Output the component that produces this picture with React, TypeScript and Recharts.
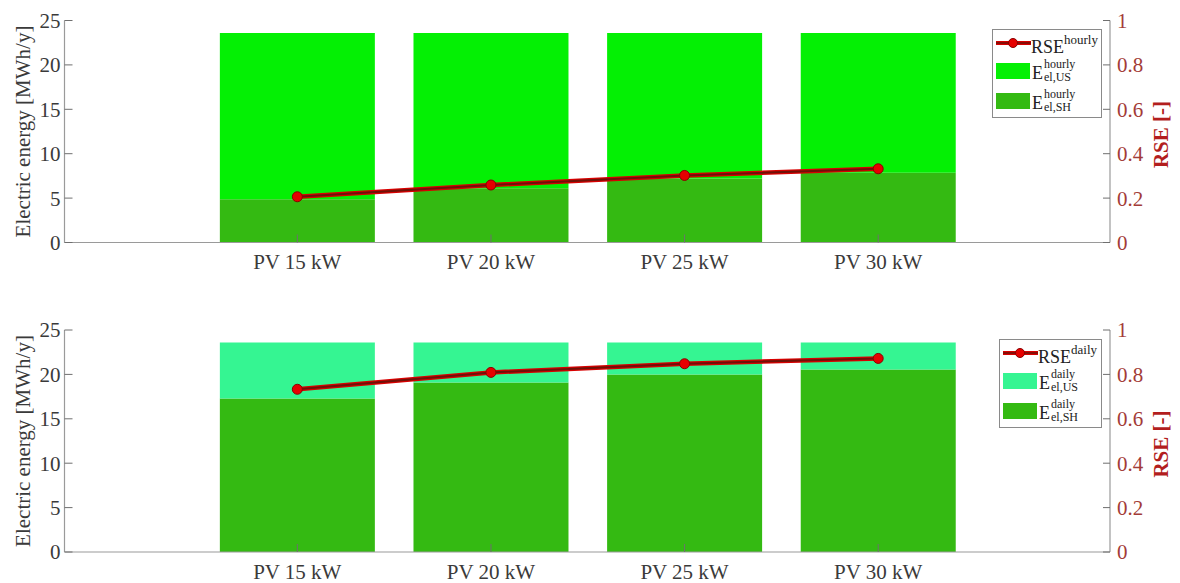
import React from 'react';
import {
  ComposedChart,
  Bar,
  Line,
  XAxis,
  YAxis,
  Legend,
  Label,
} from 'recharts';

const categories = ['PV 15 kW', 'PV 20 kW', 'PV 25 kW', 'PV 30 kW'];

const hourlySH = [4.86, 6.1, 7.2, 7.85];
const hourlyUS = [18.74, 17.5, 16.4, 15.75];
const rseHourly = [0.206, 0.259, 0.302, 0.332];

const dailySH = [17.3, 19.1, 20.0, 20.55];
const dailyUS = [6.3, 4.5, 3.6, 3.05];
const rseDaily = [0.733, 0.809, 0.848, 0.872];

const leftTicks = [0, 5, 10, 15, 20, 25];
const rightTicks = [0, 0.2, 0.4, 0.6, 0.8, 1];

const FONT = "'Liberation Serif', 'Times New Roman', serif";
const C_SH = '#34ba12';
const C_US_H = '#04f004';
const C_US_D = '#35f592';
const C_LINE_RED = '#d80000';
const C_LINE_DARK = '#6e1208';
const C_DOT = '#e60000';
const C_AXIS = '#9a9a9a';
const C_TICK = '#6f6f6f';
const C_TXT = '#3a3a3a';
const C_RIGHT_TXT = '#a33c38';
const C_RIGHT_LABEL = '#b31e1e';

const hourlyData = categories.map((c, i) => ({
  name: c,
  sh: hourlySH[i],
  us: hourlyUS[i],
  rse: rseHourly[i],
}));
const dailyData = categories.map((c, i) => ({
  name: c,
  sh: dailySH[i],
  us: dailyUS[i],
  rse: rseDaily[i],
}));

const LegendBox = ({ sup, usColor, width }: { sup: string; usColor: string; width: number }) => {
  const eLabel = (sub: string) => (
    <span style={{ display: 'inline-flex', alignItems: 'center', marginLeft: 2 }}>
      <span style={{ fontSize: 18, lineHeight: '18px', marginTop: 4 }}>E</span>
      <span
        style={{
          display: 'inline-flex',
          flexDirection: 'column',
          fontSize: 12,
          lineHeight: '13px',
          marginLeft: 1,
        }}
      >
        <span>{sup}</span>
        <span>{sub}</span>
      </span>
    </span>
  );
  return (
    <div
      style={{
        width,
        height: 89,
        boxSizing: 'border-box',
        border: '1px solid #8a8a8a',
        background: '#fff',
        fontFamily: FONT,
        color: '#222',
        paddingLeft: 3,
      }}
    >
      <div style={{ height: 26, display: 'flex', alignItems: 'center' }}>
        <svg width={35} height={14} style={{ display: 'block' }}>
          <line x1={0} y1={7} x2={35} y2={7} stroke={C_LINE_RED} strokeWidth={4} />
          <line x1={0} y1={7} x2={35} y2={7} stroke={C_LINE_DARK} strokeWidth={1.6} />
          <circle cx={17} cy={7} r={4.5} fill={C_DOT} stroke="#8a0000" strokeWidth={1} />
        </svg>
        <span style={{ fontSize: 18, lineHeight: '18px', marginTop: 8 }}>RSE</span>
        <span style={{ fontSize: 13, lineHeight: '13px', marginTop: -8 }}>{sup}</span>
      </div>
      <div style={{ height: 30, display: 'flex', alignItems: 'center' }}>
        <div style={{ width: 34, height: 16, background: usColor }} />
        {eLabel('el,US')}
      </div>
      <div style={{ height: 30, display: 'flex', alignItems: 'center' }}>
        <div style={{ width: 34, height: 16, background: C_SH }} />
        {eLabel('el,SH')}
      </div>
    </div>
  );
};

const Panel = ({
  data,
  usColor,
  sup,
  height,
  marginTop,
  xAxisHeight,
  legendTop,
  legendWidth,
}: {
  data: any[];
  usColor: string;
  sup: string;
  height: number;
  marginTop: number;
  xAxisHeight: number;
  legendTop: number;
  legendWidth: number;
}) => (
  <ComposedChart
    width={1180}
    height={height}
    data={data}
    margin={{ top: marginTop, right: 0, bottom: 0, left: 0 }}
    barCategoryGap="10%"
  >
    <XAxis
      dataKey="name"
      xAxisId="bottom"
      height={xAxisHeight}
      padding={{ left: 136, right: 135 }}
      axisLine={{ stroke: C_AXIS, strokeWidth: 1.2 }}
      tickLine={{ stroke: C_TICK }}
      tickSize={-8}
      tickMargin={20}
      tick={{ fill: C_TXT, fontSize: 21, fontFamily: FONT }}
      interval={0}
    />
    <XAxis
      dataKey="name"
      xAxisId="top"
      orientation="top"
      height={0}
      padding={{ left: 136, right: 135 }}
      axisLine={{ stroke: C_AXIS, strokeWidth: 1.2 }}
      tickLine={{ stroke: C_TICK }}
      tickSize={-8}
      tick={false}
      interval={0}
    />
    <YAxis
      yAxisId="left"
      width={64.5}
      domain={[0, 25]}
      ticks={leftTicks}
      allowDataOverflow
      axisLine={{ stroke: C_AXIS, strokeWidth: 1.2 }}
      tickLine={{ stroke: C_TICK }}
      tickSize={-8}
      tickMargin={12}
      tick={{ fill: C_TXT, fontSize: 21, fontFamily: FONT }}
    >
      <Label
        content={(props: any) => {
          const vb = props.viewBox || {};
          const cy = (vb.y ?? 0) + (vb.height ?? 0) / 2;
          return (
            <text
              x={23}
              y={cy}
              transform={`rotate(-90, 23, ${cy})`}
              textAnchor="middle"
              dominantBaseline="central"
              fontSize={21}
              style={{ fontFamily: FONT }}
              fill={C_TXT}
            >
              Electric energy [MWh/y]
            </text>
          );
        }}
      />
    </YAxis>
    <YAxis
      yAxisId="right"
      orientation="right"
      width={70}
      domain={[0, 1]}
      ticks={rightTicks}
      allowDataOverflow
      axisLine={{ stroke: C_AXIS, strokeWidth: 1.2 }}
      tickLine={{ stroke: C_TICK }}
      tickSize={-7}
      tickMargin={14}
      tick={{ fill: C_RIGHT_TXT, fontSize: 21, fontFamily: FONT }}
    >
      <Label
        content={(props: any) => {
          const vb = props.viewBox || {};
          const cy = (vb.y ?? 0) + (vb.height ?? 0) / 2 + 3;
          return (
            <text
              x={1161}
              y={cy}
              transform={`rotate(-90, 1161, ${cy})`}
              textAnchor="middle"
              dominantBaseline="central"
              fontSize={21}
              fontWeight="bold"
              style={{ fontFamily: FONT }}
              fill={C_RIGHT_LABEL}
            >
              RSE [-]
            </text>
          );
        }}
      />
    </YAxis>
    <Bar
      dataKey="sh"
      stackId="a"
      xAxisId="bottom"
      yAxisId="left"
      fill={C_SH}
      isAnimationActive={false}
    />
    <Bar
      dataKey="us"
      stackId="a"
      xAxisId="bottom"
      yAxisId="left"
      fill={usColor}
      isAnimationActive={false}
    />
    <Line
      dataKey="rse"
      xAxisId="bottom"
      yAxisId="right"
      stroke={C_LINE_RED}
      strokeWidth={4.5}
      dot={false}
      activeDot={false}
      isAnimationActive={false}
      legendType="none"
    />
    <Line
      dataKey="rse"
      xAxisId="bottom"
      yAxisId="right"
      stroke={C_LINE_DARK}
      strokeWidth={2}
      dot={{ r: 5, fill: C_DOT, stroke: '#8a0000', strokeWidth: 1 }}
      activeDot={false}
      isAnimationActive={false}
    />
    <Legend
      layout="vertical"
      align="center"
      verticalAlign="middle"
      wrapperStyle={{ left: 1102 - legendWidth, top: legendTop, width: legendWidth }}
      content={() => <LegendBox sup={sup} usColor={usColor} width={legendWidth} />}
    />
  </ComposedChart>
);

export default function App() {
  return (
    <div
      style={{
        position: 'absolute',
        left: 0,
        top: 0,
        width: 1180,
        height: 583,
        background: '#fff',
        fontFamily: FONT,
      }}
    >
      <style>{`.recharts-wrapper svg text, .recharts-wrapper svg tspan { font-family: 'Liberation Serif', 'Times New Roman', serif !important; }`}</style>
      <Panel
        data={hourlyData}
        usColor={C_US_H}
        sup="hourly"
        height={290}
        marginTop={20.5}
        xAxisHeight={47.5}
        legendTop={29}
        legendWidth={110}
      />
      <Panel
        data={dailyData}
        usColor={C_US_D}
        sup="daily"
        height={293}
        marginTop={40}
        xAxisHeight={31}
        legendTop={49}
        legendWidth={103}
      />
    </div>
  );
}
